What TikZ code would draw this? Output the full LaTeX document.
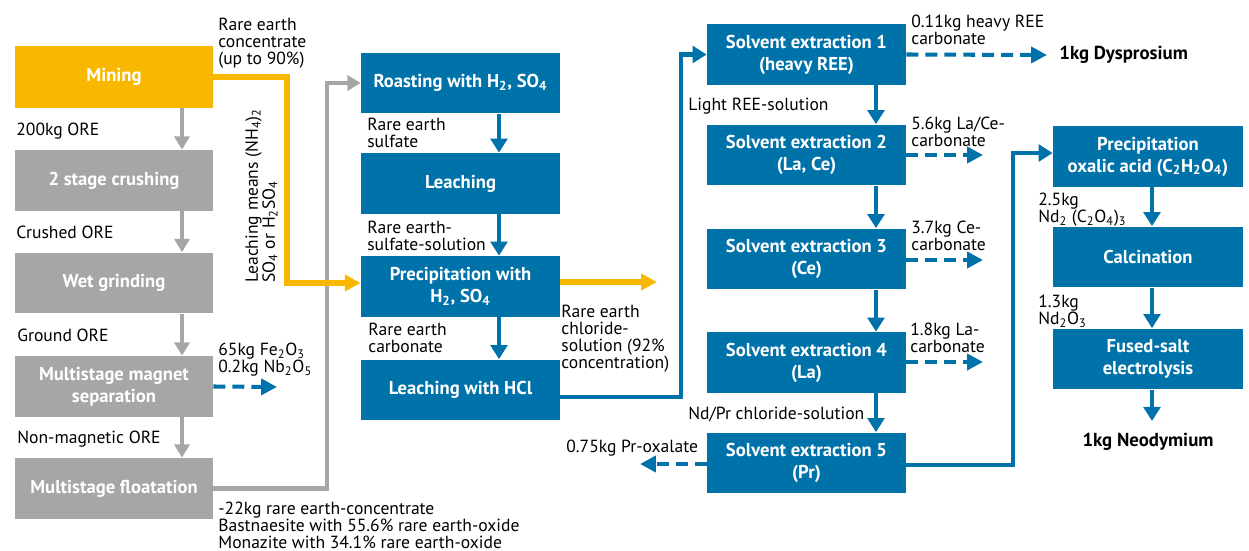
\documentclass[tikz,border=0pt]{standalone}
\usepackage{fontspec}
\setmainfont{PT Sans}
\usetikzlibrary{arrows.meta}
\definecolor{ublue}{RGB}{0,114,170}
\definecolor{uyellow}{RGB}{249,184,0}
\definecolor{ugray}{RGB}{166,166,166}
\begin{document}
\begin{tikzpicture}[x=0.02cm,y=-0.02cm,
  box/.style={rectangle, inner sep=0pt, align=center, text=white,
    font=\fontsize{10.6}{12.5}\selectfont\bfseries, minimum height=1.22cm},
  bluebox/.style={box, fill=ublue, minimum width=3.98cm},
  rbluebox/.style={box, fill=ublue, minimum width=3.8cm},
  graybox/.style={box, fill=ugray, minimum width=3.96cm},
  yellowbox/.style={box, fill=uyellow, minimum width=3.96cm, minimum height=1.24cm},
  lbl/.style={inner sep=0pt, anchor=north west, align=left,
    font=\fontsize{10}{9.64}\selectfont},
  result/.style={inner sep=0pt, font=\fontsize{10.7}{12.5}\selectfont\bfseries},
  garrow/.style={draw=ugray, line width=2.8pt, -{Triangle[length=7.5pt,width=8.5pt]}},
  yarrow/.style={draw=uyellow, line width=3.1pt, -{Triangle[length=9pt,width=9pt]}},
  barrow/.style={draw=ublue, line width=2.3pt, -{Triangle[length=8pt,width=9.5pt]}},
  darrow/.style={draw=ublue, line width=2.3pt, dash pattern=on 6.8pt off 4pt,
    -{Triangle[length=9pt,width=9pt]}}
]
\useasboundingbox (0,0) rectangle (1249,551);

% ---- left (gray) column
\node[yellowbox] (mining) at (114,77) {Mining};
\node[graybox] (crush) at (114,180.5) {2 stage crushing};
\node[graybox] (wet) at (114,283) {Wet grinding};
\node[graybox] (magnet) at (114,386.5) {Multistage magnet\\separation};
\node[graybox] (float) at (114,488.5) {Multistage floatation};

% ---- middle blue column
\node[bluebox] (roast) at (460.5,83) {Roasting with H\textsubscript{2}, SO\textsubscript{4}};
\node[bluebox] (leach) at (460.5,183.5) {Leaching};
\node[bluebox] (precip) at (460.5,286.5) {Precipitation with\\H\textsubscript{2}, SO\textsubscript{4}};
\node[bluebox] (hcl) at (460.5,390) {Leaching with HCl};

% ---- solvent extraction column
\node[bluebox] (se1) at (806.5,54.5) {Solvent extraction 1\\(heavy REE)};
\node[bluebox] (se2) at (806.5,155) {Solvent extraction 2\\(La, Ce)};
\node[bluebox] (se3) at (806.5,259) {Solvent extraction 3\\(Ce)};
\node[bluebox] (se4) at (806.5,362.5) {Solvent extraction 4\\(La)};
\node[bluebox] (se5) at (806.5,463) {Solvent extraction 5\\(Pr)};

% ---- right column
\node[rbluebox] (oxal) at (1148,156.5) {Precipitation\\oxalic acid (C\textsubscript{2}H\textsubscript{2}O\textsubscript{4})};
\node[rbluebox] (calc) at (1148,257) {Calcination};
\node[rbluebox] (fused) at (1148,359) {Fused-salt\\electrolysis};

% ---- results
\node[result, anchor=west] (dys) at (1059,55) {1kg Dysprosium};
\node[result] (neo) at (1148,442) {1kg Neodymium};

% ---- helper coordinates
\coordinate (gx) at (182,0);
\coordinate (bx) at (499,0);
\coordinate (sx) at (876,0);
\coordinate (rx) at (1152,0);
\coordinate (yend) at (657,282);
\coordinate (magend) at (277,387);
\coordinate (se2end) at (983,155);
\coordinate (se3end) at (983,260);
\coordinate (se4end) at (983,362);
\coordinate (se5end) at (640,464);
\coordinate (neoend) at (1152,421);

% ---- gray flow
\draw[garrow] (mining.south -| gx) -- (crush.north -| gx);
\draw[garrow] (crush.south -| gx) -- (wet.north -| gx);
\draw[garrow] (wet.south -| gx) -- (magnet.north -| gx);
\draw[garrow] (magnet.south -| gx) -- (float.north -| gx);
\draw[garrow] (float.east) -- (327,488.5) -- (327,83) -- (roast.west);
\draw[darrow] (magnet.east) -- (magend);

% ---- yellow flow
\draw[yarrow] (mining.east) -- (287,77) -- (287,283) -- (precip.west |- 0,283);
\draw[yarrow] (precip.east |- yend) -- (yend);

% ---- blue middle
\draw[barrow] (roast.south -| bx) -- (leach.north -| bx);
\draw[barrow] (leach.south -| bx) -- (precip.north -| bx);
\draw[barrow] (precip.south -| bx) -- (hcl.north -| bx);
\draw[barrow] (hcl.east |- 0,397) -- (681,397) -- (681,54.5) -- (se1.west);

% ---- solvent extraction
\draw[barrow] (se1.south -| sx) -- (se2.north -| sx);
\draw[barrow] (se2.south -| sx) -- (se3.north -| sx);
\draw[barrow] (se3.south -| sx) -- (se4.north -| sx);
\draw[barrow] (se4.south -| sx) -- (se5.north -| sx);
\draw[darrow] (se1.east) -- ([xshift=-12*0.02cm]dys.west);
\draw[darrow] (se2.east) -- (se2end);
\draw[darrow] (se3.east |- se3end) -- (se3end);
\draw[darrow] (se4.east |- se4end) -- (se4end);
\draw[darrow] (se5.west |- se5end) -- (se5end);
\draw[barrow] (se5.east |- 0,465) -- (1013,465) -- (1013,153) -- (oxal.west |- 0,153);

% ---- right column
\draw[barrow] (oxal.south -| rx) -- (calc.north -| rx);
\draw[barrow] (calc.south -| rx) -- (fused.north -| rx);
\draw[barrow] (fused.south -| rx) -- (neoend);

% ---- labels
\node[lbl] (l1) at (218,18) {Rare earth\\concentrate\\(up to 90\%)};
\node[lbl] (l2) at (16,123) {200kg ORE};
\node[lbl] (l3) at (16,226) {Crushed ORE};
\node[lbl] (l4) at (17,329) {Ground ORE};
\node[lbl] (l5) at (17,431) {Non-magnetic ORE};
\node[lbl] (l6) at (218,343) {65kg Fe\textsubscript{2}O\textsubscript{3}\\0.2kg Nb\textsubscript{2}O\textsubscript{5}};
\node[lbl] (l7) at (218,502) {-22kg rare earth-concentrate\\Bastnaesite with 55.6\% rare earth-oxide\\Monazite with 34.1\% rare earth-oxide};
\node[lbl, rotate=90] (l8) at (245,283) {Leaching means (NH\textsubscript{4})\textsubscript{2}\\SO\textsubscript{4} or H\textsubscript{2}SO\textsubscript{4}};
\node[lbl] (l9) at (367,118) {Rare earth\\sulfate};
\node[lbl] (l10) at (367,221) {Rare earth-\\sulfate-solution};
\node[lbl] (l11) at (368,323) {Rare earth\\carbonate};
\node[lbl] (l12) at (561,305) {Rare earth\\chloride-\\solution (92\%\\concentration)};
\node[lbl] (l13) at (688,98) {Light REE-solution};
\node[lbl] (l14) at (911,15) {0.11kg heavy REE\\carbonate};
\node[lbl] (l15) at (911,117) {5.6kg La/Ce-\\carbonate};
\node[lbl] (l16) at (911,221) {3.7kg Ce-\\carbonate};
\node[lbl] (l17) at (910,323) {1.8kg La-\\carbonate};
\node[lbl] (l18) at (688,407) {Nd/Pr chloride-solution};
\node[lbl] (l19) at (566,440) {0.75kg Pr-oxalate};
\node[lbl] (l20) at (1038,193) {2.5kg\\Nd\textsubscript{2} (C\textsubscript{2}O\textsubscript{4})\textsubscript{3}};
\node[lbl] (l21) at (1038,295) {1.3kg\\Nd\textsubscript{2}O\textsubscript{3}};
\end{tikzpicture}
\end{document}
